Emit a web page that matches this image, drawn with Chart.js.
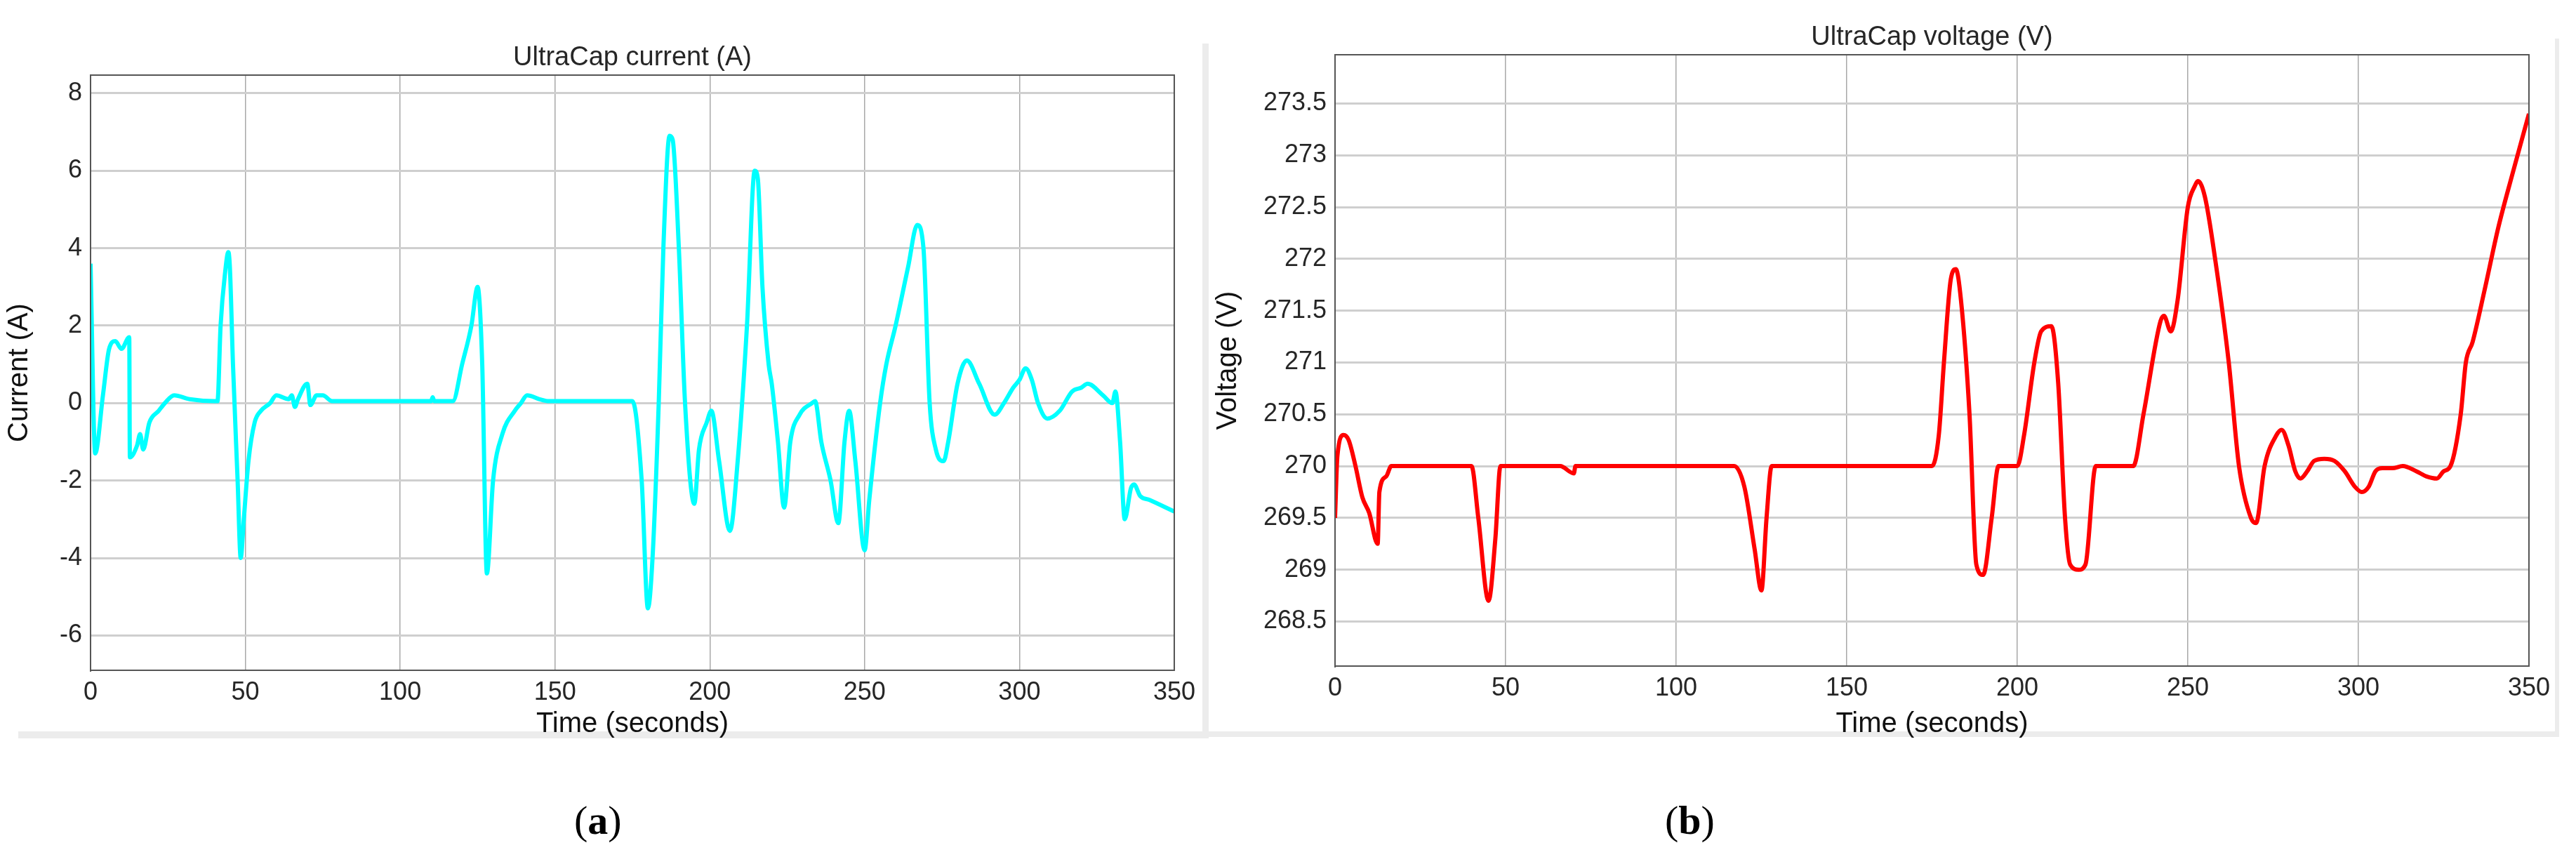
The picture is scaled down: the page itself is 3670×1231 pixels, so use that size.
<!DOCTYPE html>
<html><head><meta charset="utf-8">
<script src="https://cdn.jsdelivr.net/npm/chart.js@4/dist/chart.umd.min.js"></script>
<style>
body{margin:0;background:#fff;width:3670px;height:1231px;position:relative;overflow:hidden;font-family:"Liberation Sans",Arial,sans-serif}
.c{position:absolute}
.lab{position:absolute;font-family:"Liberation Serif","DejaVu Serif",serif;font-size:58px;color:#000}
.g{position:absolute;background:#ececec}
</style></head><body>
<div class="g" style="left:26px;top:1042px;width:1690px;height:10px"></div>
<div class="g" style="left:1713px;top:62px;width:9px;height:990px"></div>
<div class="g" style="left:1713px;top:1042px;width:1932px;height:8px"></div>
<div class="g" style="left:3640px;top:55px;width:6px;height:995px"></div>
<canvas id="a" class="c" style="left:0;top:0"></canvas>
<canvas id="b" class="c" style="left:1722px;top:0"></canvas>
<div class="lab" style="left:818px;top:1135px">(<b>a</b>)</div>
<div class="lab" style="left:2372px;top:1135px">(<b>b</b>)</div>
<script>
const currentTime=[0,1.5,4,6,8,10,12.5,12.7,15,16,17,19,22,24,27,32,40,41,42,43.5,44.5,45,46,47.5,48.5,49.5,51,53,55,58,60,64,65,66,67,70,71,73,75,78,110,110.5,111,117,120,123,125,126.5,128,130,133,137,139,141,145,148,175,178,180,181.5,183.5,185,187,188,190,192,195,196.5,199,200.5,203,206.5,209,212,214.5,215.5,217,219,220,222,224,226,229,233,234,236,239,241.5,243.5,245,247,250,251.5,255,257,260,264,267,269,271,273,275.5,277,280,283,287,292,295,298,300,302,304,306,309,313,317,320,322,327,330,331,332.5,334,336,337,339,342,350];
const currentVal=[3.6,-1.3,0.2,1.4,1.6,1.4,1.7,-1.4,-1.1,-0.8,-1.2,-0.5,-0.2,0,0.2,0.1,0.05,0.05,2,3.4,3.9,3.5,1,-2,-4,-3,-1.5,-0.5,-0.2,0,0.2,0.1,0.2,-0.1,0.1,0.5,-0.05,0.2,0.2,0.05,0.05,0.15,0.05,0.05,1,2,3,1,-4.4,-2,-0.8,-0.2,0,0.2,0.1,0.05,0.05,-2,-5.3,-4,0,4,6.9,6.8,4,0,-2.6,-1.2,-0.5,-0.2,-1.5,-3.3,-1.5,2,6,5.8,3,1,0.5,-1,-2.7,-1,-0.3,0,0.05,-1,-2,-3.1,-1,-0.2,-1.5,-3.8,-2.5,0,1,2,3.5,4.6,4,0,-1.2,-1.5,-1,0.5,1.1,0.5,-0.3,0,0.4,0.6,0.9,0.6,0,-0.4,-0.2,0.3,0.4,0.5,0.2,0,0.3,-1,-3,-2.2,-2.1,-2.4,-2.5,-2.8];
const voltTime=[0,0.7,2.5,4,6,8,10,12.5,13,15,16.5,40,42,45,47,48.5,66,70,70.5,117,120,123,125,126.5,128,175,177,178.5,180.5,182,183.5,186,188,190,192.5,194.5,200,202,205,207,210,212,214,215.5,218,220,223,234,237,242,243,245,247,250,252,253,255,258,262,265,268.5,270,272.5,276,277.5,279.5,281.5,283,285,287,290,293,296,299,301,303,305,307,310,313,317,320,323,325,327,330,331.5,333.5,337,341,345,350];
const voltVal=[269.5,270.1,270.3,270.25,270,269.7,269.55,269.25,269.75,269.9,270,270,269.5,268.7,269.3,270,270,269.93,270,270,269.8,269.2,268.8,269.5,270,270,270.3,271,271.8,271.9,271.6,270.5,269.05,268.95,269.5,270,270,270.3,271,271.3,271.35,270.8,269.5,269.05,269,269.05,270,270,270.5,271.4,271.45,271.3,271.6,272.5,272.7,272.75,272.6,272,271,270,269.5,269.45,270,270.3,270.35,270.2,269.95,269.88,269.95,270.05,270.07,270.05,269.95,269.8,269.75,269.8,269.95,269.98,269.98,270,269.95,269.9,269.88,269.95,270,270.5,271,271.2,271.7,272.3,272.8,273.4];
const xTicks=[0,50,100,150,200,250,300,350];
const currentTicks=[-6,-4,-2,0,2,4,6,8];
const voltTicks=[268.5,269,269.5,270,270.5,271,271.5,272,272.5,273,273.5];

const F="'Liberation Sans',Arial,sans-serif";
const txt='#262626';
function titlePlugin(t){return{id:'t',afterDraw(c){const x=c.ctx,a=c.chartArea;x.save();x.font='38px '+F;x.fillStyle=txt;x.textAlign='center';x.textBaseline='middle';x.fillText(t,(a.left+a.right)/2,a.top-24);x.restore();}};}
function make(id,w,h,xs,ys,color,yMin,yMax,yTicks,yTitle,title,pad,yw,xh){
  const cv=document.getElementById(id);cv.width=w;cv.height=h;cv.style.width=w+'px';cv.style.height=h+'px';
  new Chart(cv,{type:'line',
   data:{datasets:[{data:xs.map((t,i)=>({x:t,y:ys[i]})),borderColor:color,borderWidth:6,pointRadius:0,cubicInterpolationMode:'monotone',fill:false}]},
   options:{responsive:false,animation:false,devicePixelRatio:1,
    layout:{padding:pad},
    plugins:{legend:{display:false},tooltip:{enabled:false}},
    scales:{
     x:{type:'linear',min:0,max:350,afterBuildTicks(s){s.ticks=xTicks.map(v=>({value:v}));},afterFit(s){s.height=xh;},
        grid:{color:'#a8a8a8',lineWidth:1.5,drawTicks:false},border:{color:'#555',width:2},
        ticks:{color:txt,font:{size:36,family:F},padding:10,maxRotation:0,callback:v=>String(v)},
        title:{display:true,text:'Time (seconds)',color:'#111',font:{size:40,family:F},padding:{top:0}}},
     y:{min:yMin,max:yMax,afterBuildTicks(s){s.ticks=yTicks.map(v=>({value:v}));},afterFit(s){s.width=yw;},
        grid:{color:'#cfcfcf',lineWidth:3,drawTicks:false},border:{color:'#555',width:2},
        ticks:{color:txt,font:{size:36,family:F},padding:12,callback:v=>String(v)},
        title:{display:true,text:yTitle,color:'#111',font:{size:40,family:F},padding:{bottom:2}}}}},
   plugins:[titlePlugin(title),{id:'frame',afterDraw(c){const x=c.ctx,a=c.chartArea;x.save();x.strokeStyle='#555';x.lineWidth=2;x.strokeRect(a.left,a.top,a.right-a.left,a.bottom-a.top);x.restore();}}]});
}
make('a',1713,1060,currentTime,currentVal,'#00ffff',-6.9,8.47,currentTicks,'Current (A)','UltraCap current (A)',{left:0,right:38,top:107,bottom:0},129,105);
make('b',1921,1060,voltTime,voltVal,'#ff0000',268.07,273.97,voltTicks,'Voltage (V)','UltraCap voltage (V)',{left:0,right:40,top:78,bottom:0},180,111);
</script></body></html>
